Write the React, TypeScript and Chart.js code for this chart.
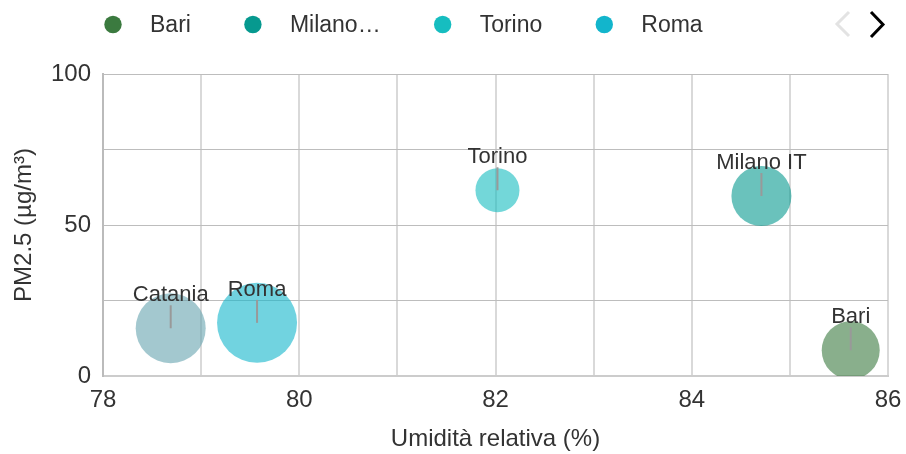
import React, { useEffect, useRef } from "react";
import { Chart, registerables } from "chart.js";

Chart.register(...registerables);

const cities = ["Bari", "Milano IT", "Torino", "Roma", "Catania"];
const legendNames = ["Bari", "Milano…", "Torino", "Roma"];
const humidity = [85.62, 84.71, 82.02, 79.57, 78.69];
const pm25 = [8.5, 59.6, 61.5, 17.6, 15.8];
const bubbleSize = [29, 30, 22, 40, 35];
const colors = ["#3b7a3f", "#06998f", "#16bdc0", "#12b5cc", "#65a3af"];
const xTicks = [78, 80, 82, 84, 86];
const yTicks = [0, 50, 100];

const FONT = '"Liberation Sans", Arial, sans-serif';

function hexA(hex: string, a: number) {
  const n = parseInt(hex.slice(1), 16);
  return `rgba(${(n >> 16) & 255},${(n >> 8) & 255},${n & 255},${a})`;
}

const labelPlugin = {
  id: "bubbleLabels",
  afterDatasetsDraw(chart: any) {
    const ctx = chart.ctx;
    ctx.save();
    chart.data.datasets.forEach((ds: any, i: number) => {
      const meta = chart.getDatasetMeta(i);
      const el = meta.data[0];
      if (!el) return;
      const { x, y } = el.getProps(["x", "y"], true);
      ctx.strokeStyle = "#999999";
      ctx.lineWidth = 2;
      ctx.beginPath();
      ctx.moveTo(x, y);
      ctx.lineTo(x, y - 23);
      ctx.stroke();
      ctx.fillStyle = "#333333";
      ctx.font = `22px ${FONT}`;
      ctx.textAlign = "center";
      ctx.textBaseline = "middle";
      ctx.fillText(ds.label, x, y - 33);
    });
    ctx.restore();
  },
};

const legendPlugin = {
  id: "customLegend",
  afterDraw(chart: any) {
    const ctx = chart.ctx;
    ctx.save();
    ctx.font = `23px ${FONT}`;
    let cx = 113;
    legendNames.forEach((name, i) => {
      ctx.fillStyle = colors[i];
      ctx.beginPath();
      ctx.arc(cx, 24.5, 8.7, 0, Math.PI * 2);
      ctx.fill();
      ctx.fillStyle = "#333333";
      ctx.textAlign = "left";
      ctx.textBaseline = "alphabetic";
      const tx = cx + 37;
      ctx.fillText(name, tx, 32);
      cx = tx + ctx.measureText(name).width + 62;
    });
    ctx.lineWidth = 3;
    ctx.strokeStyle = "#e3e3e3";
    ctx.beginPath();
    ctx.moveTo(849, 12);
    ctx.lineTo(837, 24);
    ctx.lineTo(849, 36);
    ctx.stroke();
    ctx.strokeStyle = "#000000";
    ctx.beginPath();
    ctx.moveTo(871, 12);
    ctx.lineTo(883, 24.5);
    ctx.lineTo(871, 37);
    ctx.stroke();
    ctx.restore();
  },
};

export default function App() {
  const ref = useRef<HTMLCanvasElement | null>(null);
  useEffect(() => {
    if (!ref.current) return;
    const chart = new Chart(ref.current, {
      type: "bubble",
      data: {
        datasets: cities.map((c, i) => ({
          label: c,
          data: [{ x: humidity[i], y: pm25[i], r: bubbleSize[i] }],
          backgroundColor: hexA(colors[i], 0.6),
          borderWidth: 0,
          hoverBorderWidth: 0,
        })),
      },
      options: {
        responsive: false,
        animation: false,
        events: [],
        layout: { autoPadding: false, padding: { top: 74, right: 18, left: 0, bottom: 0 } },
        plugins: {
          legend: { display: false },
          tooltip: { enabled: false },
        },
        scales: {
          x: {
            type: "linear",
            min: xTicks[0],
            max: xTicks[xTicks.length - 1],
            afterFit: (s: any) => {
              s.height = 78;
              s.paddingRight = 0;
              s.paddingLeft = 0;
            },
            ticks: {
              stepSize: 1,
              padding: 10,
              color: "#333333",
              font: { size: 24, family: FONT },
              maxRotation: 0,
              autoSkip: false,
              callback: (v: any) => (xTicks.includes(Number(v)) ? String(v) : ""),
            },
            grid: { color: "#d9d9d9", lineWidth: 2, drawTicks: false },
            border: { color: "#cccccc", width: 2 },
            title: {
              display: true,
              text: "Umidità relativa (%)",
              color: "#333333",
              font: { size: 24, family: FONT },
              padding: { top: 0, bottom: 0 },
            },
          },
          y: {
            type: "linear",
            min: yTicks[0],
            max: yTicks[yTicks.length - 1],
            afterFit: (s: any) => {
              s.width = 103;
            },
            ticks: {
              stepSize: 25,
              padding: 12,
              color: "#333333",
              font: { size: 24, family: FONT },
              autoSkip: false,
              callback: (v: any) => (yTicks.includes(Number(v)) ? String(v) : ""),
            },
            grid: { color: "#bdbdbd", lineWidth: 1, drawTicks: false },
            border: { color: "#bbbbbb", width: 2 },
            title: {
              display: true,
              text: "PM2.5 (µg/m³)",
              color: "#333333",
              font: { size: 24, family: FONT },
              padding: { top: 10, bottom: 0 },
            },
          },
        },
      },
      plugins: [labelPlugin, legendPlugin],
    });
    return () => chart.destroy();
  }, []);
  return (
    <div style={{ position: "absolute", left: 0, top: 0, width: 906, height: 454 }}>
      <canvas ref={ref} width={906} height={454} style={{ display: "block" }} />
    </div>
  );
}
